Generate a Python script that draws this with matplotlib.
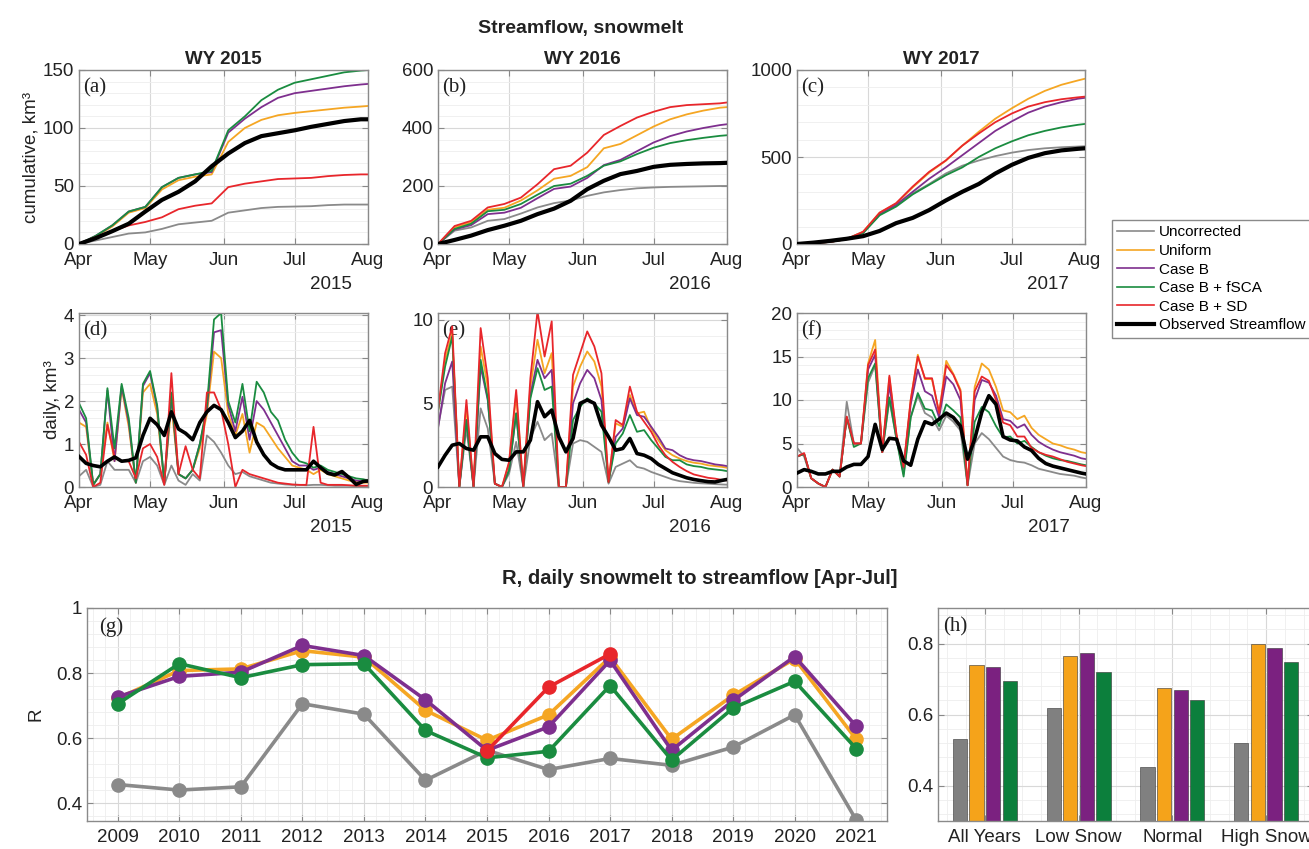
""" 重绘：Streamflow, snowmelt 与 R 相关系数图 """
import matplotlib
matplotlib.use('Agg')
import matplotlib.pyplot as plt
from matplotlib.lines import Line2D
from matplotlib.ticker import AutoMinorLocator, MultipleLocator
import numpy as np

plt.rcParams['font.family'] = ['Liberation Sans', 'DejaVu Sans']

# ---------------- 数据 ----------------
series_names = ['Uncorrected', 'Uniform', 'Case B', 'Case B + fSCA', 'Case B + SD',
                'Observed Streamflow']
month_labels = ['Apr', 'May', 'Jun', 'Jul', 'Aug']
month_days = [0, 30, 61, 91, 122]

# 累计值 (km3)，4月1日起的天数
days_cum = [0, 7, 14, 21, 28, 35, 42, 49, 56, 63, 70, 77, 84, 91, 98, 105, 112, 119, 122]

cum15_uncorr = [0, 3, 6, 9, 10, 13, 17, 18.5, 20, 27, 29, 31, 32, 32.3, 32.6, 33.5, 34, 34, 34]
cum15_uniform = [0, 6.5, 15, 27, 31, 47, 55, 58, 60, 88, 100, 107, 111, 113, 114.5, 116, 117.5, 118.5, 119]
cum15_caseb = [0, 7, 16, 28, 32, 49, 57, 60, 62, 96, 108, 118, 126, 130, 132, 134, 136, 137.5, 138]
cum15_fsca = [0, 7, 16, 28, 32, 49, 57, 60, 63, 98, 110, 124, 133, 139, 142, 145, 148, 149.5, 150]
cum15_sd = [0, 6, 11, 16, 19, 23, 30, 33, 35, 49, 52, 54, 56, 56.5, 57, 58.5, 59.5, 60, 60]
cum15_obs = [0, 5, 11, 17.5, 28, 38, 45, 54, 67, 78, 87, 93, 95.5, 98, 101, 103.5, 106, 107.5, 107.5]

cum16_uncorr = [0, 46, 57, 80, 86, 105, 126, 141, 150, 166, 178, 186, 192, 195, 197, 198, 199, 200, 200]
cum16_uniform = [0, 57, 75, 118, 125, 150, 185, 225, 235, 265, 330, 345, 375, 405, 430, 447, 460, 470, 472]
cum16_caseb = [0, 50, 65, 103, 108, 125, 158, 190, 198, 228, 272, 290, 320, 350, 372, 388, 400, 410, 413]
cum16_fsca = [0, 52, 70, 113, 118, 138, 170, 200, 208, 235, 270, 285, 310, 332, 348, 358, 366, 373, 375]
cum16_sd = [0, 62, 80, 126, 138, 160, 206, 258, 270, 315, 376, 407, 436, 456, 472, 479, 482, 485, 488]
cum16_obs = [0, 14, 29, 48, 63, 80, 103, 122, 149, 189, 218, 241, 252, 266, 273, 276, 278, 279, 280]

cum17_uncorr = [0, 5, 12, 30, 70, 170, 220, 290, 345, 405, 450, 480, 505, 525, 540, 550, 556, 560, 562]
cum17_uniform = [0, 5, 12, 28, 70, 180, 232, 325, 410, 478, 565, 645, 720, 780, 835, 880, 915, 940, 950]
cum17_caseb = [0, 5, 12, 28, 65, 170, 225, 300, 375, 440, 510, 580, 650, 705, 755, 790, 815, 835, 840]
cum17_fsca = [0, 5, 12, 28, 62, 165, 215, 285, 340, 395, 440, 500, 550, 590, 625, 650, 670, 685, 690]
cum17_sd = [0, 5, 12, 28, 70, 180, 235, 330, 415, 480, 565, 635, 700, 750, 790, 815, 832, 843, 847]
cum17_obs = [0, 8, 18, 30, 45, 75, 120, 150, 195, 250, 300, 345, 405, 455, 495, 522, 538, 547, 550]

# 日值 (km3)
days_daily = list(range(0, 121, 3)) + [122]

d15_uncorr = [0.25, 0.4, 0.0, 0.05, 0.6, 0.4, 0.4, 0.4, 0.1, 0.6, 0.7, 0.5, 0.05, 0.5, 0.15, 0.05, 0.3, 0.15,
              1.2, 1.05, 0.8, 0.5, 0.3, 0.35, 0.25, 0.2, 0.15, 0.1, 0.08, 0.06, 0.05, 0.05, 0.04, 0.05,
              0.05, 0.04, 0.03, 0.03, 0.03, 0.02, 0.02, 0.02]
d15_uniform = [1.5, 1.4, 0.05, 0.3, 1.5, 0.6, 2.3, 1.4, 0.1, 2.2, 2.4, 1.7, 0.1, 1.9, 0.3, 0.2, 0.4, 0.9,
               1.7, 3.15, 3.0, 1.7, 1.2, 1.7, 0.8, 1.5, 1.4, 1.15, 0.9, 0.7, 0.5, 0.45, 0.4, 0.3, 0.4,
               0.3, 0.25, 0.2, 0.15, 0.12, 0.1, 0.1]
d15_caseb = [1.8, 1.5, 0.05, 0.3, 2.25, 0.6, 2.35, 1.5, 0.1, 2.35, 2.65, 1.85, 0.1, 2.1, 0.3, 0.2, 0.4, 1.0,
             1.8, 3.6, 3.65, 1.9, 1.3, 2.1, 1.1, 2.0, 1.8, 1.5, 1.2, 0.9, 0.6, 0.5, 0.5, 0.4, 0.45, 0.35,
             0.3, 0.25, 0.2, 0.15, 0.13, 0.12]
d15_fsca = [1.95, 1.6, 0.05, 0.3, 2.3, 0.9, 2.4, 1.6, 0.1, 2.4, 2.7, 1.9, 0.1, 2.2, 0.3, 0.2, 0.4, 1.0,
            1.9, 3.9, 4.05, 2.0, 1.5, 2.4, 1.3, 2.45, 2.2, 1.75, 1.55, 1.1, 0.8, 0.6, 0.55, 0.45, 0.5,
            0.4, 0.35, 0.3, 0.25, 0.2, 0.18, 0.15]
d15_sd = [1.05, 0.75, 0.0, 0.1, 1.45, 0.7, 0.6, 0.6, 0.2, 0.9, 1.0, 0.7, 0.05, 2.65, 0.3, 0.95, 0.4, 0.2,
          2.2, 2.2, 1.8, 1.0, 0.0, 0.4, 0.3, 0.25, 0.2, 0.15, 0.1, 0.08, 0.06, 0.05, 0.05, 1.4, 0.1,
          0.05, 0.05, 0.05, 0.04, 0.03, 0.03, 0.03]
d15_obs = [0.71, 0.55, 0.5, 0.47, 0.6, 0.7, 0.6, 0.62, 0.68, 1.2, 1.6, 1.45, 1.2, 1.75, 1.35, 1.25, 1.1,
           1.5, 1.75, 1.9, 1.8, 1.5, 1.15, 1.3, 1.55, 1.05, 0.75, 0.55, 0.45, 0.4, 0.4, 0.4, 0.4, 0.6,
           0.45, 0.32, 0.28, 0.36, 0.22, 0.06, 0.13, 0.14]

d16_uncorr = [3.6, 5.8, 6.0, 0.0, 3.5, 0.0, 4.7, 3.5, 0.2, 0.0, 0.8, 2.7, 0.0, 2.9, 3.9, 2.8, 3.2, 0.0, 0.0,
              2.6, 2.8, 2.7, 2.4, 2.1, 0.2, 1.2, 1.4, 1.6, 1.2, 1.1, 0.9, 0.75, 0.6, 0.45, 0.35, 0.3,
              0.25, 0.22, 0.2, 0.17, 0.15, 0.14]
d16_uniform = [4.5, 7.6, 9.2, 0.0, 4.8, 0.0, 8.4, 6.0, 0.2, 0.0, 1.4, 5.5, 0.0, 6.0, 8.8, 6.8, 8.0, 0.0, 0.0,
               6.0, 7.2, 8.1, 7.5, 6.0, 0.3, 3.8, 3.6, 5.5, 4.4, 4.5, 3.5, 2.8, 2.2, 1.9, 1.7, 1.55,
               1.45, 1.4, 1.3, 1.25, 1.2, 1.15]
d16_caseb = [3.5, 6.2, 7.5, 0.0, 4.0, 0.0, 7.2, 5.2, 0.2, 0.0, 1.0, 4.4, 0.0, 5.5, 7.6, 6.5, 7.0, 0.0, 0.0,
             5.0, 6.2, 7.0, 6.5, 5.2, 0.3, 3.0, 3.5, 5.3, 4.3, 4.2, 3.6, 3.0, 2.3, 2.2, 1.9, 1.7, 1.6,
             1.55, 1.45, 1.35, 1.3, 1.25]
d16_fsca = [4.5, 7.2, 9.0, 0.0, 4.0, 0.0, 7.6, 5.3, 0.2, 0.0, 1.0, 4.4, 0.0, 5.3, 7.1, 5.8, 6.0, 0.0, 0.0,
            4.0, 4.8, 5.3, 5.0, 4.5, 0.3, 2.6, 3.2, 4.3, 3.3, 3.4, 2.8, 2.3, 1.8, 1.6, 1.6, 1.35, 1.25,
            1.2, 1.1, 1.05, 1.0, 0.95]
d16_sd = [4.6, 8.0, 9.6, 0.0, 5.2, 0.0, 9.5, 6.5, 0.2, 0.0, 1.5, 5.8, 0.0, 6.5, 10.5, 7.8, 9.9, 0.0, 0.0,
          6.7, 8.0, 9.3, 8.4, 6.8, 0.3, 4.0, 3.7, 6.0, 4.5, 3.9, 3.3, 2.5, 1.9, 1.5, 1.2, 0.95, 0.75,
          0.65, 0.55, 0.5, 0.42, 0.4]
d16_obs = [1.2, 1.9, 2.5, 2.6, 2.3, 2.2, 3.0, 3.0, 2.0, 1.65, 1.6, 2.1, 2.1, 2.8, 5.1, 4.2, 4.6, 3.0, 2.1,
           2.9, 5.0, 5.2, 5.0, 3.7, 3.0, 2.2, 2.3, 2.9, 2.0, 1.9, 1.7, 1.35, 1.1, 0.85, 0.7, 0.55, 0.45,
           0.38, 0.32, 0.3, 0.4, 0.45]

d17_uncorr = [4.5, 3.5, 1.0, 0.4, 0.0, 2.0, 1.3, 9.8, 5.0, 5.0, 12.0, 14.0, 4.0, 10.0, 5.5, 1.5, 8.0,
              10.5, 8.5, 8.0, 6.5, 8.2, 7.5, 6.5, 0.2, 5.0, 6.2, 5.5, 4.5, 3.5, 3.1, 2.9, 2.8, 2.5, 2.1,
              1.9, 1.7, 1.5, 1.4, 1.3, 1.1, 1.0]
d17_uniform = [3.5, 3.8, 1.0, 0.4, 0.0, 2.0, 1.2, 8.0, 5.0, 5.0, 14.2, 16.9, 4.0, 12.6, 6.0, 2.3, 10.0,
               15.2, 12.4, 12.4, 8.5, 14.5, 13.0, 11.2, 0.2, 11.5, 14.2, 13.5, 11.5, 8.8, 8.6, 7.8, 8.2,
               6.8, 6.0, 5.5, 5.0, 4.8, 4.5, 4.3, 4.0, 3.9]
d17_caseb = [3.5, 3.8, 1.0, 0.4, 0.0, 2.0, 1.2, 8.0, 5.0, 5.0, 13.5, 15.2, 4.0, 11.8, 5.8, 2.2, 9.5, 13.5,
             11.0, 10.5, 8.0, 12.7, 11.8, 10.0, 0.2, 10.0, 12.3, 12.0, 10.5, 7.8, 7.6, 6.8, 7.2, 6.0,
             5.2, 4.7, 4.3, 4.0, 3.8, 3.6, 3.3, 3.2]
d17_fsca = [3.5, 3.8, 1.0, 0.4, 0.0, 2.0, 1.2, 8.0, 4.6, 5.0, 12.5, 14.2, 4.0, 10.3, 5.5, 1.2, 8.0, 10.8,
            9.0, 8.8, 7.0, 9.5, 8.8, 8.0, 0.2, 7.5, 9.2, 8.6, 7.0, 5.7, 5.8, 5.0, 5.3, 4.6, 4.0, 3.6,
            3.3, 3.1, 3.0, 2.8, 2.6, 2.5]
d17_sd = [3.5, 3.9, 1.0, 0.4, 0.0, 2.0, 1.2, 8.1, 5.0, 5.0, 14.0, 15.8, 4.0, 12.8, 6.0, 2.3, 10.0, 15.0,
          12.5, 12.5, 8.5, 14.0, 12.9, 11.0, 0.2, 11.0, 12.7, 12.2, 10.0, 7.4, 7.1, 5.8, 5.8, 4.5, 4.0,
          3.7, 3.5, 3.2, 2.9, 2.7, 2.5, 2.4]
d17_obs = [1.6, 2.0, 1.8, 1.5, 1.5, 1.8, 1.8, 2.3, 2.6, 2.6, 3.5, 7.2, 4.3, 5.6, 5.5, 3.0, 2.5, 5.5, 7.5,
           7.2, 7.8, 8.5, 8.0, 7.0, 3.2, 5.5, 8.6, 10.5, 9.5, 5.8, 5.4, 5.3, 4.6, 4.2, 3.3, 2.7, 2.4,
           2.2, 2.0, 1.8, 1.6, 1.5]

# (g) 每年的 R
years = [2009, 2010, 2011, 2012, 2013, 2014, 2015, 2016, 2017, 2018, 2019, 2020, 2021]
r_uncorr = [0.458, 0.441, 0.451, 0.706, 0.674, 0.471, 0.563, 0.504, 0.538, 0.517, 0.573, 0.672, 0.349]
r_uniform = [0.723, 0.808, 0.813, 0.869, 0.849, 0.686, 0.594, 0.672, 0.849, 0.597, 0.732, 0.844, 0.597]
r_caseb = [0.727, 0.790, 0.803, 0.885, 0.854, 0.718, 0.563, 0.635, 0.839, 0.563, 0.716, 0.851, 0.637]
r_fsca = [0.706, 0.829, 0.786, 0.826, 0.829, 0.624, 0.540, 0.560, 0.762, 0.533, 0.693, 0.775, 0.568]
r_sd = [np.nan, np.nan, np.nan, np.nan, np.nan, np.nan, 0.561, 0.757, 0.859, np.nan, np.nan, np.nan, np.nan]

# (h) 分组平均 R
groups = ['All Years', 'Low Snow', 'Normal', 'High Snow']
h_uncorr = [0.532, 0.618, 0.453, 0.520]
h_uniform = [0.739, 0.766, 0.676, 0.800]
h_caseb = [0.735, 0.774, 0.669, 0.787]
h_fsca = [0.695, 0.719, 0.641, 0.747]

# ---------------- 样式 ----------------
colors = ['#8a8a8a', '#f5a623', '#7e2f8e', '#1a8c40', '#e8262b', 'black']
bar_colors = ['#808080', '#f5a31a', '#7b2180', '#0c7f3c']
TXT = '#222222'
W, H = 1309, 849

fig = plt.figure(figsize=(W / 100, H / 100), dpi=100)


def add_ax(x0, y0, x1, y1):
    """ 用像素坐标添加坐标轴 """
    return fig.add_axes([x0 / W, 1 - y1 / H, (x1 - x0) / W, (y1 - y0) / H])


def style_ax(ax, xminor=False):
    """ 类似 MATLAB 的网格和刻度 """
    ax.yaxis.set_minor_locator(AutoMinorLocator(5))
    if xminor:
        ax.xaxis.set_minor_locator(AutoMinorLocator(5))
    ax.grid(True, which='major', color='#d8d8d8', lw=0.8)
    ax.grid(True, which='minor', color='#eeeeee', lw=0.6)
    ax.set_axisbelow(True)
    ax.tick_params(which='both', direction='in', top=True, right=True, labelsize=13.5,
                   colors='#888888', labelcolor=TXT, length=4)
    ax.tick_params(which='minor', length=0)
    ax.tick_params(axis='x', pad=6)
    for sp in ax.spines.values():
        sp.set_color('#8a8a8a')
        sp.set_linewidth(1.0)


def panel_label(ax, text):
    ax.text(0.015, 0.955, text, transform=ax.transAxes, va='top', ha='left',
            fontsize=15, family=['Liberation Serif'], color=TXT, zorder=1)


def time_panel(rect, days, data, ylim, yticks, label, year, lw, lw_obs, title=None, ylabel=None):
    ax = add_ax(*rect)
    style_ax(ax)
    panel_label(ax, label)
    for vals, c in zip(data[:-1], colors[:-1]):
        ax.plot(days, vals, color=c, lw=lw, zorder=2)
    ax.plot(days, data[-1], color='black', lw=lw_obs, zorder=3)
    ax.set_xlim(0, 122)
    ax.set_ylim(*ylim)
    ax.set_xticks(month_days)
    ax.set_xticklabels(month_labels)
    ax.set_yticks(yticks)
    ax.text(0.945, -0.235, year, transform=ax.transAxes, ha='right', va='center',
            fontsize=13.5, color=TXT)
    if title:
        ax.set_title(title, fontsize=13.5, fontweight='bold', color=TXT, pad=4)
    if ylabel:
        ax.set_ylabel(ylabel, fontsize=13.5, color=TXT, labelpad=2)
    return ax


# 累计
time_panel((79, 70, 368, 244), days_cum,
           [cum15_uncorr, cum15_uniform, cum15_caseb, cum15_fsca, cum15_sd, cum15_obs],
           (0, 150), [0, 50, 100, 150], '(a)', '2015', 1.3, 3.0,
           title='WY 2015', ylabel='cumulative, km³')
time_panel((438, 70, 727, 244), days_cum,
           [cum16_uncorr, cum16_uniform, cum16_caseb, cum16_fsca, cum16_sd, cum16_obs],
           (0, 600), [0, 200, 400, 600], '(b)', '2016', 1.3, 3.0, title='WY 2016')
time_panel((797, 70, 1085, 244), days_cum,
           [cum17_uncorr, cum17_uniform, cum17_caseb, cum17_fsca, cum17_sd, cum17_obs],
           (0, 1000), [0, 500, 1000], '(c)', '2017', 1.3, 3.0, title='WY 2017')

# 日值
time_panel((79, 313, 368, 487), days_daily,
           [d15_uncorr, d15_uniform, d15_caseb, d15_fsca, d15_sd, d15_obs],
           (0, 4.05), [0, 1, 2, 3, 4], '(d)', '2015', 1.3, 2.6, ylabel='daily, km³')
time_panel((438, 313, 727, 487), days_daily,
           [d16_uncorr, d16_uniform, d16_caseb, d16_fsca, d16_sd, d16_obs],
           (0, 10.4), [0, 5, 10], '(e)', '2016', 1.3, 2.6)
time_panel((797, 313, 1086, 487), days_daily,
           [d17_uncorr, d17_uniform, d17_caseb, d17_fsca, d17_sd, d17_obs],
           (0, 20), [0, 5, 10, 15, 20], '(f)', '2017', 1.3, 2.6)

fig.text(581 / W, 1 - 28 / H, 'Streamflow, snowmelt', ha='center', va='center',
         fontsize=14, fontweight='bold', color=TXT)

# 图例
handles = [Line2D([], [], color=c, lw=1.2) for c in colors[:-1]]
handles.append(Line2D([], [], color='black', lw=3))
fig.legend(handles, series_names, loc='upper left', bbox_to_anchor=(1112 / W, 1 - 220 / H),
           fontsize=11, frameon=True, fancybox=False, edgecolor='#8a8a8a', framealpha=1,
           handlelength=2.4, handletextpad=0.3, labelspacing=0.3, borderpad=0.35,
           borderaxespad=0)

# (g) R 折线
axg = add_ax(87, 608, 887, 821)
style_ax(axg, xminor=True)
panel_label(axg, '(g)')
for vals, c in zip([r_uncorr, r_uniform, r_caseb, r_fsca, r_sd], colors[:5]):
    axg.plot(years, vals, color=c, lw=2.6, marker='o', ms=9.5, zorder=2)
axg.set_xlim(2008.5, 2021.5)
axg.set_ylim(0.346, 1.0)
axg.set_xticks(years)
axg.set_yticks([0.4, 0.6, 0.8, 1.0])
axg.set_yticklabels(['0.4', '0.6', '0.8', '1'])
axg.set_ylabel('R', fontsize=13.5, color=TXT, labelpad=8)
fig.text(700 / W, 1 - 579 / H, 'R, daily snowmelt to streamflow [Apr-Jul]', ha='center',
         va='center', fontsize=14.5, fontweight='bold', color=TXT)

# (h) 分组柱状图
axh = add_ax(938, 608, 1313, 821)
style_ax(axh)
axh.xaxis.set_minor_locator(MultipleLocator(0.2))
panel_label(axh, '(h)')
x = np.arange(1, len(groups) + 1)
for i, (vals, c) in enumerate(zip([h_uncorr, h_uniform, h_caseb, h_fsca], bar_colors)):
    axh.bar(x + (i - 1.5) * 0.177, vals, width=0.152, color=c, edgecolor='#333333',
            linewidth=0.4, zorder=2)
axh.set_xlim(0.5, 4.5)
axh.set_ylim(0.3, 0.9)
axh.set_xticks(x)
axh.set_xticklabels(groups)
axh.set_yticks([0.4, 0.6, 0.8])

fig.savefig('out.png', dpi=100, facecolor='white')
